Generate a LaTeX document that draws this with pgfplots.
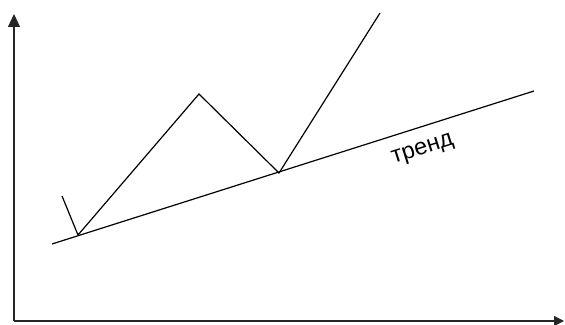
\documentclass[border=0pt]{standalone}
\usepackage{fontspec}
\setmainfont{Liberation Sans}
\usepackage{pgfplots}
\pgfplotsset{compat=1.18}
\usetikzlibrary{arrows.meta}
\begin{document}
\begin{tikzpicture}
\begin{axis}[name=ax, width=565bp, height=325bp, scale only axis,
  xmin=0, xmax=565, ymin=0, ymax=325, hide axis, clip=false]
% axes (y = 325 - pixel row)
\addplot[line width=1.2bp, color=black!85, -{Triangle[length=13bp,width=12bp]}] coordinates {(14,4) (14,311)};
\addplot[line width=1.2bp, color=black!85, -{Triangle[length=10bp,width=10bp]}] coordinates {(14,4) (564,4)};
% trend line
\addplot[line width=1.2bp, black] coordinates {(52,81) (534,234)};
% price zigzag
\addplot[line width=1.2bp, black] coordinates {(62,129) (78,90) (199,231) (279,152) (380,312)};
\node[rotate=17.6, inner sep=0pt, font=\fontsize{23.5}{28}\selectfont] at (axis cs:423,175) {тренд};
\end{axis}
\pgfresetboundingbox
\path (ax.south west) rectangle (ax.north east);
\end{tikzpicture}
\end{document}
